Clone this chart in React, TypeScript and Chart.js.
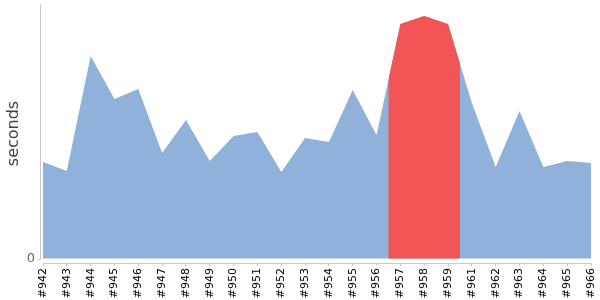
import { useEffect, useRef } from 'react';
import { Chart, registerables } from 'chart.js';

const buildLabels = ['#942', '#943', '#944', '#945', '#946', '#947', '#948', '#949', '#950', '#951', '#952', '#953', '#954', '#955', '#956', '#957', '#958', '#959', '#961', '#962', '#963', '#964', '#965', '#966'];
const durationSeconds = [96.5, 87.5, 202.5, 159.5, 169.5, 105.5, 138.5, 97.5, 122.5, 126.5, 86.5, 120.5, 116.5, 168.5, 123.5, 234.5, 242.5, 234.5, 155.5, 91.5, 147.5, 91.5, 97.5, 95.5];
const highlightedBuilds = ['#957', '#958', '#959'];
const yRange = [-4.5, 254.5];
const yTickValues = [0];

const BLUE = '#8fb1da';
const RED = '#f25555';
const AXIS = '#c8c8c8';
const FONT = "'DejaVu Sans', Verdana, sans-serif";

// Clip a dataset (fill + line) to the half-category band around its highlight range.
const highlightClip = {
  id: 'highlightClip',
  beforeDatasetDraw(chart: any, args: any) {
    const ds: any = chart.data.datasets[args.index];
    if (!ds.highlightRange) return;
    const xs = chart.scales.x;
    const area = chart.chartArea;
    const [a, b] = ds.highlightRange;
    const x0 = xs.getPixelForValue(a - 0.5);
    const x1 = xs.getPixelForValue(b + 0.5);
    const ctx = chart.ctx;
    ctx.save();
    ctx.beginPath();
    ctx.rect(x0, area.top - 2, x1 - x0, area.bottom - area.top + 4);
    ctx.clip();
  },
  afterDatasetDraw(chart: any, args: any) {
    const ds: any = chart.data.datasets[args.index];
    if (!ds.highlightRange) return;
    chart.ctx.restore();
  },
};

const yAxisLine = {
  id: 'yAxisLine',
  afterDraw(chart: any) {
    const ctx = chart.ctx;
    const area = chart.chartArea;
    const ys = chart.scales.y;
    const y0 = Math.round(ys.getPixelForValue(0)) + 0.5;
    const x = Math.round(area.left - 3) + 0.5;
    ctx.save();
    ctx.strokeStyle = AXIS;
    ctx.lineWidth = 1;
    ctx.beginPath();
    ctx.moveTo(x, area.top);
    ctx.lineTo(x, y0);
    ctx.moveTo(x - 3, y0);
    ctx.lineTo(x, y0);
    ctx.stroke();
    ctx.restore();
  },
};

Chart.register(highlightClip);
Chart.register(...registerables);

export default function App() {
  const ref = useRef<HTMLCanvasElement | null>(null);

  useEffect(() => {
    document.body.style.margin = '0';
    const canvas = ref.current;
    if (!canvas) return;
    const a = buildLabels.indexOf(highlightedBuilds[0]);
    const b = buildLabels.indexOf(highlightedBuilds[highlightedBuilds.length - 1]);

    const chart = new Chart(canvas, {
      type: 'line',
      data: {
        labels: buildLabels,
        datasets: [
          {
            label: 'highlight',
            data: durationSeconds,
            backgroundColor: RED,
            borderWidth: 0,
            pointRadius: 0,
            fill: 'origin',
            tension: 0,
            highlightRange: [a, b],
          } as any,
          {
            label: 'seconds',
            data: durationSeconds,
            backgroundColor: BLUE,
            borderWidth: 0,
            pointRadius: 0,
            fill: 'origin',
            tension: 0,
          },
        ],
      },
      options: {
        animation: false,
        responsive: false,
        layout: { padding: { top: 4, right: 9, left: 0, bottom: 0 } },
        plugins: {
          legend: { display: false },
          tooltip: { enabled: false },
        },
        scales: {
          x: {
            offset: false,
            grid: { display: true, drawOnChartArea: false, drawTicks: true, tickLength: 3, color: AXIS },
            border: { display: true, color: AXIS },
            ticks: {
              autoSkip: false,
              minRotation: 90,
              maxRotation: 90,
              padding: 2,
              color: '#000',
              font: { family: FONT, size: 11 },
            },
            afterFit: (scale: any) => {
              scale.height = 37;
              scale.paddingLeft = 0;
              scale.paddingRight = 0;
            },
          },
          y: {
            min: yRange[0],
            max: yRange[1],
            grid: { display: false, drawTicks: false },
            border: { display: false },
            ticks: {
              padding: 8,
              color: '#666',
              font: { family: FONT, size: 13 },
            },
            afterBuildTicks: (scale: any) => {
              scale.ticks = yTickValues.map((v) => ({ value: v }));
            },
            title: {
              display: true,
              text: 'seconds',
              color: '#444',
              font: { family: FONT, size: 16 },
              padding: { top: 4, bottom: 4 },
            },
            afterFit: (scale: any) => {
              scale.width = 43;
              scale.paddingTop = 0;
              scale.paddingBottom = 0;
            },
          },
        },
      },
      plugins: [yAxisLine],
    });

    return () => chart.destroy();
  }, []);

  return (
    <div style={{ width: 600, height: 300 }}>
      <canvas ref={ref} width={600} height={300} />
    </div>
  );
}
